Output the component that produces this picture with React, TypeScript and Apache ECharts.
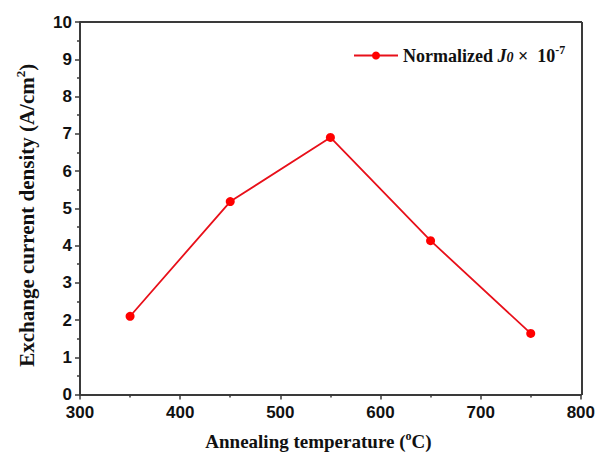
import React, { useEffect, useRef } from "react";
import * as echarts from "echarts";

const temperatures = [350, 450, 550, 650, 750];
const normalizedJ0 = [2.1, 5.18, 6.9, 4.13, 1.64];
const seriesName = "Normalized J0 × 10-7";

export default function App() {
  const ref = useRef<HTMLDivElement>(null);
  useEffect(() => {
    if (!ref.current) return;
    const chart = echarts.init(ref.current, null, { renderer: "svg" });
    const axisColor = "#3a3a3a";
    const tickLabel = {
      fontFamily: "Liberation Sans, Arial, sans-serif",
      fontWeight: "bold" as const,
      fontSize: 17,
      color: "#111",
    };
    const serif = "Liberation Serif, Times New Roman, serif";
    chart.setOption({
      animation: false,
      backgroundColor: "#fff",
      grid: { left: 80, right: 16, top: 22, bottom: 61, containLabel: false },
      legend: {
        data: [seriesName],
        left: 353,
        top: 44,
        padding: 0,
        itemWidth: 44,
        itemHeight: 10,
        itemGap: 6,
        formatter: () => "{n|Normalized }{it|J}{sub|0}{n| ×  10}{sup|-7}",
        textStyle: {
          fontFamily: serif,
          fontWeight: "bold",
          fontSize: 18,
          color: "#111",
          rich: {
            n: { fontFamily: serif, fontWeight: "bold", fontSize: 18, color: "#111" },
            it: { fontFamily: serif, fontWeight: "bold", fontStyle: "italic", fontSize: 18, color: "#111" },
            sub: { fontFamily: serif, fontWeight: "bold", fontStyle: "italic", fontSize: 14, color: "#111", padding: [4, 0, 0, 0] },
            sup: { fontFamily: serif, fontWeight: "bold", fontSize: 12, color: "#111", padding: [0, 0, 11, 0] },
          },
        },
      },
      xAxis: {
        type: "value",
        min: 300,
        max: 800,
        interval: 100,
        name: "Annealing temperature ({sup|o}C)",
        nameLocation: "middle",
        nameGap: 35,
        nameTextStyle: {
          fontFamily: serif,
          fontWeight: "bold",
          fontSize: 19,
          color: "#111",
          padding: [0, 24, 0, 0],
          rich: {
            sup: { fontFamily: serif, fontWeight: "bold", fontSize: 12, color: "#111", padding: [0, 0, 12, 0] },
          },
        },
        axisLine: { show: true, onZero: false, lineStyle: { color: axisColor, width: 2 } },
        axisTick: { show: true, inside: false, length: 5, lineStyle: { color: axisColor, width: 1.5 } },
        minorTick: { show: true, splitNumber: 2, length: 3, lineStyle: { color: axisColor, width: 1.5 } },
        axisLabel: { ...tickLabel, margin: 9 },
        splitLine: { show: false },
      },
      yAxis: {
        type: "value",
        min: 0,
        max: 10,
        interval: 1,
        name: "Exchange current density (A/cm{sup|2})",
        nameLocation: "middle",
        nameGap: 40,
        nameTextStyle: {
          fontFamily: serif,
          fontWeight: "bold",
          fontSize: 21,
          color: "#111",
          padding: [0, 14, 0, 0],
          rich: {
            sup: { fontFamily: serif, fontWeight: "bold", fontSize: 13, color: "#111", padding: [0, 0, 13, 0] },
          },
        },
        axisLine: { show: true, onZero: false, lineStyle: { color: axisColor, width: 2 } },
        axisTick: { show: true, inside: false, length: 5, lineStyle: { color: axisColor, width: 1.5 } },
        minorTick: { show: true, splitNumber: 2, length: 3, lineStyle: { color: axisColor, width: 1.5 } },
        axisLabel: { ...tickLabel, margin: 8 },
        splitLine: { show: false },
      },
      graphic: [
        {
          type: "line",
          shape: { x1: 80, y1: 22, x2: 582, y2: 22 },
          style: { stroke: axisColor, lineWidth: 2 },
        },
        {
          type: "line",
          shape: { x1: 582, y1: 22, x2: 582, y2: 395 },
          style: { stroke: axisColor, lineWidth: 2 },
        },
      ],
      series: [
        {
          name: seriesName,
          type: "line",
          data: temperatures.map((t, i) => [t, normalizedJ0[i]]),
          symbol: "circle",
          symbolSize: 9,
          itemStyle: { color: "#ff0000" },
          lineStyle: { color: "#e8101a", width: 1.8 },
        },
      ],
    });
    return () => chart.dispose();
  }, []);
  return <div ref={ref} style={{ width: 598, height: 456, position: "absolute", left: 0, top: 0 }} />;
}
